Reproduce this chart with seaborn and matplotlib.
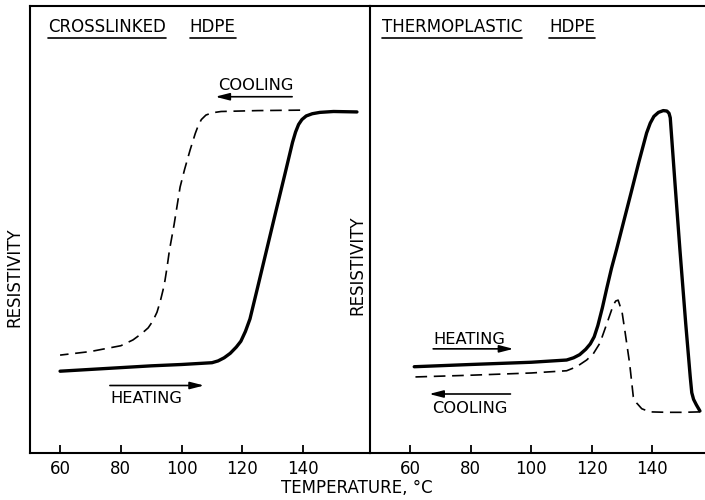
import matplotlib
matplotlib.use("Agg")
import matplotlib.pyplot as plt
import seaborn as sns
import pandas as pd
from matplotlib.lines import Line2D

# ---------------- data ----------------
xl_heat_T = [60, 70, 80, 90, 100, 110, 112, 114, 116, 118, 119.5, 121, 122.5, 125,
             128, 131, 134, 136.5, 137.5, 138.5, 139.6, 141, 143, 145.5, 150, 157.7]
xl_heat_R = [18.3, 18.7, 19.1, 19.5, 19.8, 20.2, 20.6, 21.3, 22.3, 23.7, 25, 27.2, 30,
             37, 45.5, 54, 62.4, 69.5, 71.8, 73.5, 74.6, 75.4, 75.9, 76.2, 76.4, 76.3]
xl_cool_T = [139, 125, 113, 110, 108, 106.5, 105.5, 104.5, 102.8, 101, 99.5, 97.5, 96, 95.2,
             94.5, 93.9, 93, 91.9, 90.5, 89, 87, 84, 80, 70, 60]
xl_cool_R = [76.7, 76.6, 76.4, 76.1, 75.6, 74.6, 73.3, 71.5, 67.8, 63.5, 59.5, 51, 45.4, 41.5,
             38.5, 36.5, 34, 31.5, 29.5, 28, 26.8, 25.3, 24, 22.7, 21.9]

tp_heat_T = [61.4, 80, 100, 111.7, 114, 116, 118, 119.5, 120.8, 122, 123.5, 125, 126.5,
             128.2, 130.5, 133, 135.5, 138.1, 139.3, 140.5, 142, 143.6, 144.8, 145.5, 145.9,
             147.5, 149.1, 151, 152.5, 153, 153.6, 154.5, 155.7]
tp_heat_R = [19.3, 19.8, 20.3, 20.8, 21.3, 22, 23.2, 24.4, 26, 28.5, 32.5, 37, 41.3,
             45.6, 51.7, 58.3, 65, 71.6, 73.8, 75.3, 76.2, 76.6, 76.5, 76, 75,
             60, 45.4, 29, 17, 13.5, 12, 10.8, 9.4]
tp_cool_T = [155.7, 150, 145, 139.2, 136.5, 134.8, 133.7, 132.5, 131, 130, 128.7, 127.9,
             127.1, 125, 122.7, 120.5, 118.3, 115, 111.7, 100, 80, 61.1]
tp_cool_R = [9.2, 9.1, 9.1, 9.2, 9.9, 11.2, 12.6, 20, 27, 31.5, 34.2, 34, 33.1, 29, 24.6,
             22.2, 20.8, 19.3, 18.4, 17.9, 17.4, 17.0]

x_ticks = [60, 80, 100, 120, 140]
title_left = ["CROSSLINKED", "HDPE"]
title_right = ["THERMOPLASTIC", "HDPE"]

# ---------------- style ----------------
sns.set_theme(style="white")
plt.rcParams["font.family"] = ["DejaVu Sans"]
plt.rcParams["axes.edgecolor"] = "black"
plt.rcParams["axes.linewidth"] = 1.5
plt.rcParams["text.color"] = "black"
plt.rcParams["xtick.color"] = "black"

fig = plt.figure(figsize=(7.05, 5.0), dpi=100)
W, H = 705, 500
bot, top = 453, 6
axL = fig.add_axes([30 / W, (H - bot) / H, 340 / W, (bot - top) / H])
axR = fig.add_axes([370 / W, (H - bot) / H, 336 / W, (bot - top) / H])
axR.set_facecolor("none")

def draw(ax, T, R, dashed):
    df = pd.DataFrame({"T": T, "R": R})
    sns.lineplot(data=df, x="T", y="R", ax=ax, sort=False, estimator=None,
                 color="black", lw=1.2 if dashed else 2.4)
    ln = ax.lines[-1]
    ln.set_solid_capstyle("round")
    ln.set_solid_joinstyle("round")
    if dashed:
        ln.set_linestyle((0, (7, 4)))

draw(axL, xl_heat_T, xl_heat_R, False)
draw(axL, xl_cool_T, xl_cool_R, True)
draw(axR, tp_heat_T, tp_heat_R, False)
draw(axR, tp_cool_T, tp_cool_R, True)

axL.set_xlim(50.1, 162)
axR.set_xlim(46.8, 157.7)
for ax in (axL, axR):
    ax.set_ylim(0, 100)
    ax.set_yticks([])
    ax.set_xticks(x_ticks)
    ax.set_xticklabels([str(t) for t in x_ticks])
    ax.tick_params(axis="x", direction="in", length=6, width=1.3, labelsize=12,
                   pad=5, colors="black", bottom=True)
    ax.set_xlabel("")
    ax.set_ylabel("")
axR.spines["left"].set_visible(False)
axR.spines["right"].set_visible(False)

fs = 12
fs_small = 11.7

def title_words(ax, words, xs, y):
    out = []
    for w, x in zip(words, xs):
        out.append(ax.text(x, y, w, transform=ax.transAxes, fontsize=fs, va="center",
                           ha="left"))
    return out

underlined = []
underlined += title_words(axL, title_left, [0.053, 0.47], 0.952)
underlined += title_words(axR, title_right, [0.036, 0.533], 0.952)

def arrow(ax, x0, x1, y):
    ax.annotate("", xy=(x1, y), xytext=(x0, y), xycoords="axes fraction",
                textcoords="axes fraction",
                arrowprops=dict(arrowstyle="-|>,head_length=0.7,head_width=0.18",
                                lw=1.2, color="black", shrinkA=0, shrinkB=0))

# left panel labels
axL.text(0.553, 0.823, "COOLING", transform=axL.transAxes, fontsize=fs_small, va="center", ha="left")
arrow(axL, 0.771, 0.545, 0.797)
axL.text(0.235, 0.123, "HEATING", transform=axL.transAxes, fontsize=fs_small, va="center", ha="left")
arrow(axL, 0.235, 0.512, 0.151)

# right panel labels
axR.text(0.188, 0.255, "HEATING", transform=axR.transAxes, fontsize=fs_small, va="center", ha="left")
arrow(axR, 0.188, 0.427, 0.233)
axR.text(0.185, 0.10, "COOLING", transform=axR.transAxes, fontsize=fs_small, va="center", ha="left")
arrow(axR, 0.418, 0.176, 0.132)

# y labels
axL.text(-0.047, 0.394, "RESISTIVITY", transform=axL.transAxes, rotation=90, fontsize=fs,
         va="center", ha="center")
axR.text(-0.039, 0.42, "RESISTIVITY", transform=axR.transAxes, rotation=90, fontsize=fs,
         va="center", ha="center")

# x label
fig.text(357 / W, 1 - 488 / H, "TEMPERATURE, °C", fontsize=fs, ha="center", va="center")

# underline title words
fig.canvas.draw()
r = fig.canvas.get_renderer()
for t in underlined:
    bb = t.get_window_extent(r)
    yline = bb.y0 - 2
    fig.add_artist(Line2D([bb.x0 / W, bb.x1 / W], [yline / H, yline / H],
                          transform=fig.transFigure, color="black", lw=1.2))

fig.savefig("out.png", dpi=100)
